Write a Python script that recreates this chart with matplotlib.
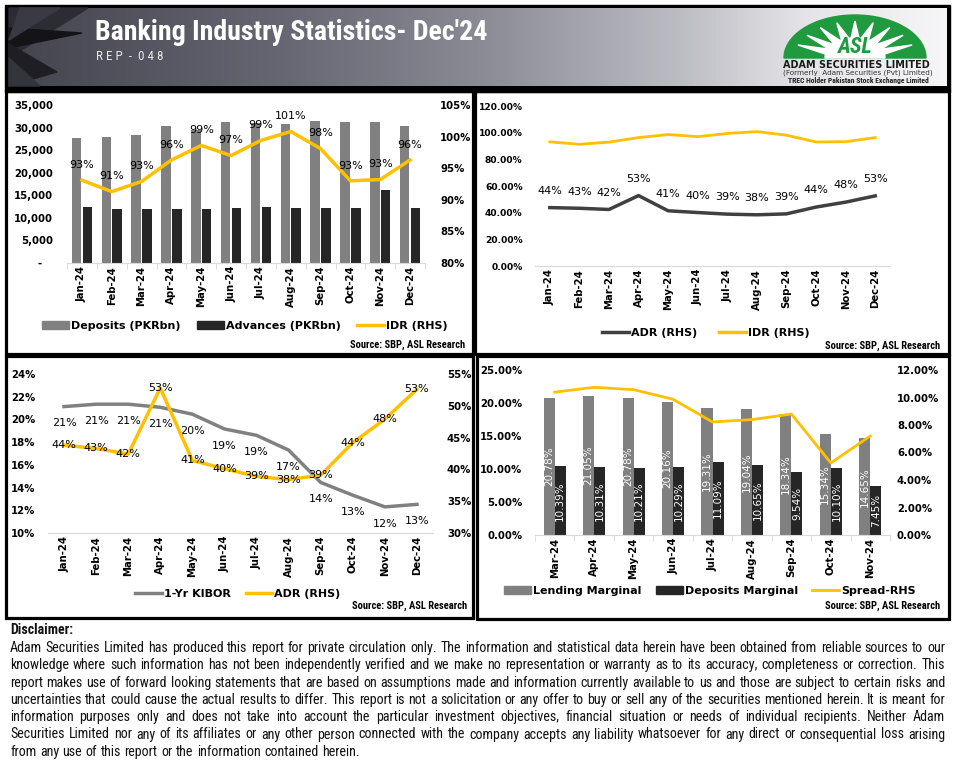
import numpy as np
import matplotlib
matplotlib.use('Agg')
import matplotlib.pyplot as plt
from matplotlib import font_manager as fm
from matplotlib.patches import Rectangle, Polygon, Patch
from matplotlib.lines import Line2D
from matplotlib.colors import LinearSegmentedColormap
from matplotlib.ticker import FuncFormatter

# ---- data ----
months = ['Jan-24', 'Feb-24', 'Mar-24', 'Apr-24', 'May-24', 'Jun-24',
          'Jul-24', 'Aug-24', 'Sep-24', 'Oct-24', 'Nov-24', 'Dec-24']
deposits = [27740, 27960, 28400, 30400, 29450, 31290, 30920, 30840, 31510, 31290, 31290, 30400]
advances = [12430, 11980, 11980, 11980, 11980, 12200, 12430, 12200, 12200, 12200, 16200, 12200]
idr = [93.1, 91.3, 92.9, 96.3, 98.6, 97.0, 99.4, 100.8, 98.1, 93.0, 93.2, 96.3]
adr = [43.8, 43.3, 42.4, 52.8, 41.4, 40.1, 38.9, 38.4, 39.1, 44.2, 47.9, 52.6]
kibor = [21.13, 21.34, 21.34, 21.07, 20.46, 19.16, 18.6, 17.30, 14.45, 13.33, 12.30, 12.52]

months4 = ['Mar-24', 'Apr-24', 'May-24', 'Jun-24', 'Jul-24', 'Aug-24', 'Sep-24', 'Oct-24', 'Nov-24']
lending = [20.78, 21.05, 20.78, 20.16, 19.31, 19.04, 18.34, 15.34, 14.65]
dep_marg = [10.39, 10.31, 10.21, 10.29, 11.09, 10.65, 9.54, 10.10, 7.45]
spread = [10.39, 10.74, 10.57, 9.87, 8.22, 8.39, 8.80, 5.24, 7.20]

disclaimer = [
    "Adam Securities Limited has produced this report for private circulation only. The information and statistical data herein have been obtained from reliable sources to our",
    "knowledge where such information has not been independently verified and we make no representation or warranty as to its accuracy, completeness or correction. This",
    "report makes use of forward looking statements that are based on assumptions made and information currently available to us and those are subject to certain risks and",
    "uncertainties that could cause the actual results to differ. This report is not a solicitation or any offer to buy or sell any of the securities mentioned herein. It is meant for",
    "information purposes only and does not take into account the particular investment objectives, financial situation or needs of individual recipients. Neither Adam",
    "Securities Limited nor any of its affiliates or any other person connected with the company accepts any liability whatsoever for any direct or consequential loss arising",
    "from any use of this report or the information contained herein.",
]

GOLD = '#FFC000'
LGRAY = '#808080'
DARK = '#262626'

plt.rcParams['font.family'] = ['DejaVu Sans']
plt.rcParams['font.size'] = 8

names = {f.name for f in fm.fontManager.ttflist}
narrow = next((n for n in ['Liberation Sans Narrow', 'Noto Sans Condensed',
                           'Roboto Condensed', 'Open Sans Condensed']
               if n in names), 'Liberation Sans')

# axis text in the report is a wide, fairly heavy face
axfont = fm.FontProperties(family='DejaVu Sans', weight='bold', size=7.3)
smallfont = fm.FontProperties(family='DejaVu Sans', weight='bold', size=6.6)
legfont = fm.FontProperties(family='DejaVu Sans', weight='bold', size=8.0)

W, H = 955, 762
fig = plt.figure(figsize=(W / 100, H / 100), dpi=100)
r = fig.canvas.get_renderer()


def rect(x0, y0, x1, y1):
    return [x0 / W, 1 - y1 / H, (x1 - x0) / W, (y1 - y0) / H]


def fpt(x, y):
    return (x / W, 1 - y / H)


def fit(t, width):
    w = t.get_window_extent(r).width
    t.set_fontsize(t.get_fontsize() * width / w)


# ---- canvas for banner, borders and disclaimer ----
cv = fig.add_axes([0, 0, 1, 1])
cv.set_xlim(0, W)
cv.set_ylim(H, 0)
cv.axis('off')

cv.add_patch(Rectangle((5, 5), 945, 87, color='black'))
cmap = LinearSegmentedColormap.from_list(
    'banner', [(0, '#44444f'), (0.3, '#686874'), (0.5, '#8a8a95'),
               (0.72, '#bdbdc4'), (0.85, '#e4e4e8'), (1, '#f6f6f8')])
cv.imshow(np.linspace(0, 1, 256)[None, :], cmap=cmap, aspect='auto',
          extent=(9, 946, 86, 8), zorder=1)
for pts, c in [([(9, 8), (88, 8), (9, 58)], '#2c2c34'),
               ([(9, 28), (82, 33), (9, 48)], '#141418'),
               ([(9, 44), (57, 72), (9, 86)], '#1e1e24'),
               ([(9, 58), (40, 86), (9, 86)], '#34343c'),
               ([(20, 8), (60, 8), (9, 40)], '#3a3a44')]:
    cv.add_patch(Polygon(pts, closed=True, color=c, zorder=2))

t = cv.text(95, 32, "Banking Industry Statistics- Dec'24", color='white',
            fontweight='bold', family=narrow, fontsize=18, va='center', zorder=3)
fit(t, 392)
t = cv.text(96, 57, "R E P  -  0 4 8", color='#e6e6e6', family=narrow,
            fontsize=10, va='center', zorder=3)
fit(t, 67)

# logo
th = np.linspace(0, np.pi, 80)
cv.add_patch(Polygon(np.c_[855 + 71 * np.cos(th), 58 - 43 * np.sin(th)],
                     color='#1f9a3e', zorder=3))
ang = np.linspace(np.radians(12), np.radians(168), 19)
rad = np.where(np.arange(19) % 2 == 0, 0.42, 0.86)
cv.add_patch(Polygon(np.c_[855 + 71 * rad * np.cos(ang), 58 - 43 * rad * np.sin(ang)],
                     color='white', zorder=4))
cv.add_patch(Polygon(np.c_[855 + 30 * np.cos(th), 58 - 20 * np.sin(th)],
                     color='white', zorder=4))
cv.text(855, 47, 'ASL', color='#1f9a3e', fontweight='bold', family=narrow,
        fontsize=16, ha='center', va='center', style='italic', zorder=5)
t = cv.text(856, 65, 'ADAM SECURITIES LIMITED', color='#1a1a1a', fontweight='bold',
            fontsize=7, ha='center', va='center', zorder=5)
fit(t, 146)
t = cv.text(858, 73, '(Formerly  Adam Securities (Pvt) Limited)', color='#333333',
            fontsize=5, ha='center', va='center', zorder=5)
fit(t, 152)
t = cv.text(858, 81, 'TREC Holder Pakistan Stock Exchange Limited', color='#222222',
            fontsize=5, fontweight='bold', family=narrow, ha='center', va='center', zorder=5)
fit(t, 142)

# panel borders
for x0, y0, x1, y1 in [(6, 91, 473, 354), (475, 91, 949, 354),
                       (6, 356, 473, 618), (477, 356, 949, 619)]:
    cv.add_patch(Rectangle((x0, y0), x1 - x0, y1 - y0, fill=False,
                           lw=2.3, ec='black', zorder=6))

# disclaimer, justified
cv.text(10, 630, 'Disclaimer:', fontweight='bold', family=narrow, fontsize=10,
        va='center', color='#111111')
fs0 = 10
widths = []
for line in disclaimer[:-1]:
    tt = cv.text(0, 0, line, family=narrow, fontsize=fs0)
    widths.append(tt.get_window_extent(r).width)
    tt.remove()
fs = fs0 * 928 / max(widths)
for i, line in enumerate(disclaimer):
    y = 648 + i * 17.3
    words = line.split()
    objs = [cv.text(0, y, wd, family=narrow, fontsize=fs, va='center', color='#111111')
            for wd in words]
    ws = [o.get_window_extent(r).width for o in objs]
    if i < len(disclaimer) - 1:
        gap = (935 - sum(ws)) / (len(words) - 1)
    else:
        gap = fs * 100 / 72 * 0.25
    x = 10
    for o, w in zip(objs, ws):
        o.set_x(x)
        x += w + gap


def style(ax, pad_left=9, minor=False, n=12, yfont=axfont):
    for s in ['top', 'left', 'right']:
        ax.spines[s].set_visible(False)
    ax.spines['bottom'].set_color('#d9d9d9')
    ax.tick_params(axis='y', length=0, pad=pad_left)
    ax.tick_params(axis='x', which='major', length=0, rotation=90, pad=2)
    ax.set_xlim(-0.5, n - 0.5)
    if minor:
        ax.set_xticks(np.arange(-0.5, n, 1), minor=True)
        ax.tick_params(axis='x', which='minor', length=4, color='#d9d9d9')
    for lb in ax.get_xticklabels():
        lb.set_fontproperties(axfont)
    for lb in ax.get_yticklabels():
        lb.set_fontproperties(yfont)
    ax.patch.set_visible(False)


def style_twin(ax, pad):
    for s in ax.spines.values():
        s.set_visible(False)
    ax.tick_params(axis='y', length=0, pad=pad)
    for lb in ax.get_yticklabels():
        lb.set_fontproperties(axfont)


def leg(ax, handles, labels, x, y, ncol, cs):
    ax.legend(handles, labels, loc='center', bbox_to_anchor=fpt(x, y),
              bbox_transform=fig.transFigure, ncol=ncol, frameon=False, prop=legfont,
              handlelength=2.4, handletextpad=0.2, columnspacing=cs)


def src(x, y):
    t = fig.text(*fpt(x, y), 'Source: SBP, ASL Research', fontweight='bold',
                 family=narrow, fontsize=8, ha='right', va='center')
    fit(t, 116)


x12 = np.arange(12)

# ---- panel 1 ----
ax1 = fig.add_axes(rect(67, 105, 425, 263))
ax1.bar(x12 - 0.18, deposits, 0.32, color=LGRAY)
ax1.bar(x12 + 0.18, advances, 0.32, color=DARK)
ax1.set_ylim(0, 35000)
ax1.set_yticks(np.arange(0, 35001, 5000))
ax1.yaxis.set_major_formatter(FuncFormatter(lambda v, p: '-   ' if v == 0 else f'{v:,.0f}'))
ax1.set_xticks(x12, months)
style(ax1, pad_left=10, minor=True)
ax1b = ax1.twinx()
ax1b.plot(x12, idr, color=GOLD, lw=2.5)
ax1b.set_ylim(80, 105)
ax1b.set_yticks(np.arange(80, 106, 5))
ax1b.yaxis.set_major_formatter(FuncFormatter(lambda v, p: f'{v:.0f}%'))
style_twin(ax1b, 11)
for i, v in enumerate(idr):
    ax1b.annotate(f'{v:.0f}%', (i, v), xytext=(0, 11), textcoords='offset points',
                  ha='center', va='center', fontsize=8)
leg(ax1b, [Patch(color=LGRAY), Patch(color=DARK), Line2D([], [], color=GOLD, lw=2.5)],
    ['Deposits (PKRbn)', 'Advances (PKRbn)', 'IDR (RHS)'], 245, 326, 3, 1.5)
src(465, 345)

# ---- panel 2 ----
ax2 = fig.add_axes(rect(535, 106, 890, 266))
ax2.plot(x12, adr, color='#404040', lw=2.5)
ax2.plot(x12, idr, color=GOLD, lw=2)
ax2.set_ylim(0, 120)
ax2.set_yticks(np.arange(0, 121, 20))
ax2.yaxis.set_major_formatter(FuncFormatter(lambda v, p: f'{v:.2f}%'))
ax2.set_xticks(x12, months)
style(ax2, pad_left=9, yfont=smallfont)
for i, v in enumerate(adr):
    ax2.annotate(f'{v:.0f}%', (i, v), xytext=(0, 12), textcoords='offset points',
                 ha='center', va='center', fontsize=8)
leg(ax2, [Line2D([], [], color='#404040', lw=2.5), Line2D([], [], color=GOLD, lw=2.5)],
    ['ADR (RHS)', 'IDR (RHS)'], 706, 333, 2, 2.0)
src(940, 346)

# ---- panel 3 ----
ax3 = fig.add_axes(rect(48, 374, 433, 533))
ax3.plot(x12, kibor, color=LGRAY, lw=2.5)
ax3.set_ylim(10, 24)
ax3.set_yticks(np.arange(10, 25, 2))
ax3.yaxis.set_major_formatter(FuncFormatter(lambda v, p: f'{v:.0f}%'))
ax3.set_xticks(x12, months)
style(ax3, pad_left=9)
for i, v in enumerate(kibor):
    ax3.annotate(f'{v:.0f}%', (i, v), xytext=(0, -12), textcoords='offset points',
                 ha='center', va='center', fontsize=8)
ax3b = ax3.twinx()
ax3b.plot(x12, adr, color=GOLD, lw=2.5)
ax3b.set_ylim(30, 55)
ax3b.set_yticks(np.arange(30, 56, 5))
ax3b.yaxis.set_major_formatter(FuncFormatter(lambda v, p: f'{v:.0f}%'))
style_twin(ax3b, 10)
for i, v in enumerate(adr):
    ax3b.annotate(f'{v:.0f}%', (i, v), ha='center', va='center', fontsize=8)
leg(ax3b, [Line2D([], [], color=LGRAY, lw=2.5), Line2D([], [], color=GOLD, lw=2.5)],
    ['1-Yr KIBOR', 'ADR (RHS)'], 238, 594, 2, 1.3)
src(467, 606)

# ---- panel 4 ----
x9 = np.arange(len(months4))
ax4 = fig.add_axes(rect(535, 370, 890, 535))
b1 = ax4.bar(x9 - 0.14, lending, 0.28, color=LGRAY)
b2 = ax4.bar(x9 + 0.14, dep_marg, 0.28, color=DARK)
ax4.bar_label(b1, labels=[f'{v:.2f}%' for v in lending], label_type='center',
              rotation=90, color='white', fontsize=7.5)
ax4.bar_label(b2, labels=[f'{v:.2f}%' for v in dep_marg], label_type='center',
              rotation=90, color='white', fontsize=7.5)
ax4.set_ylim(0, 25)
ax4.set_yticks(np.arange(0, 26, 5))
ax4.yaxis.set_major_formatter(FuncFormatter(lambda v, p: f'{v:.2f}%'))
ax4.set_xticks(x9, months4)
style(ax4, pad_left=9, minor=True, n=9)
ax4b = ax4.twinx()
ax4b.plot(x9, spread, color=GOLD, lw=2)
ax4b.set_ylim(0, 12)
ax4b.set_yticks(np.arange(0, 13, 2))
ax4b.yaxis.set_major_formatter(FuncFormatter(lambda v, p: f'{v:.2f}%'))
style_twin(ax4b, 5)
leg(ax4b, [Patch(color=LGRAY), Patch(color=DARK), Line2D([], [], color=GOLD, lw=2)],
    ['Lending Marginal', 'Deposits Marginal', 'Spread-RHS'], 710, 591, 3, 1.3)
src(940, 606)

fig.savefig('out.png', dpi=100, facecolor='white')
